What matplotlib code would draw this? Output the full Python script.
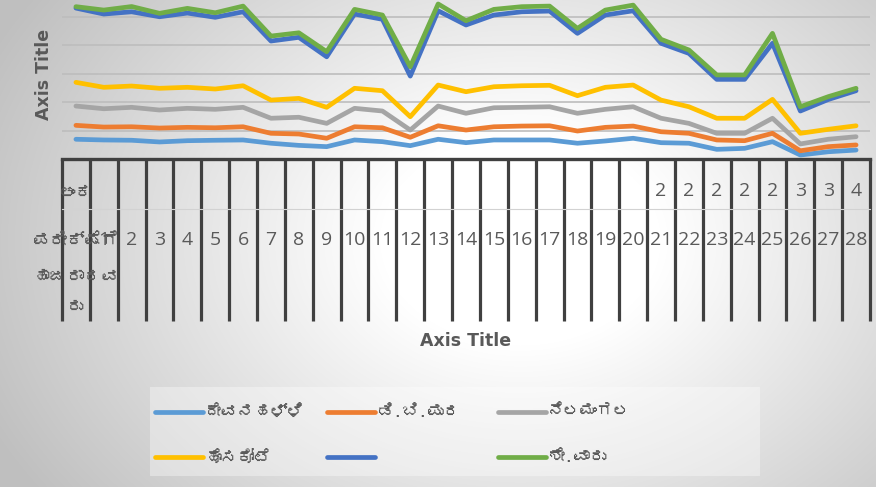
import numpy as np
import matplotlib
matplotlib.use('Agg')
import matplotlib.pyplot as plt
from matplotlib import font_manager
from matplotlib.ft2font import FT2Font
from matplotlib.lines import Line2D
from matplotlib.patches import Rectangle
import matplotlib.transforms as mtransforms

# ---------------- data ----------------
cat_first = ['ಅಂಕ', 'ಪರೀಕ್ಷೆಗೆ', 'ಹಾಜರಾದವ', 'ರು']
cat_top = [''] + [''] * 20 + ['2', '2', '2', '2', '2', '3', '3', '4']
cat_bottom = [''] + [str(i) for i in range(1, 29)]

series_names = ['ದೇವನಹಳ್ಳಿ', 'ಡಿ.ಬಿ.ಪುರ', 'ನೆಲಮಂಗಲ', 'ಹೊಸಕೋಟೆ', '', 'ಶೇ.ವಾರು']

devanahalli = [13.9, 13.4, 13.2, 12.0, 12.9, 13.2, 13.4, 11.1, 9.6, 8.7, 13.4, 12.2, 9.4, 13.9,
               11.5, 13.4, 13.4, 13.4, 11.1, 12.7, 14.6, 11.5, 11.1, 6.8, 7.5, 12.2, 2.8, 5.1, 6.3]
dbpura = [23.7, 22.5, 22.7, 21.8, 22.3, 22.0, 22.7, 18.1, 17.6, 14.6, 22.7, 22.0, 15.3, 23.4,
          20.4, 22.7, 23.2, 23.4, 19.7, 22.3, 23.2, 19.2, 18.1, 13.4, 12.9, 18.1, 5.8, 8.7, 9.9]
nelamangala = [37.3, 35.4, 36.4, 34.5, 35.7, 35.0, 36.4, 28.7, 29.4, 25.1, 35.7, 33.8, 20.4, 37.3,
               32.2, 36.1, 36.4, 36.8, 32.2, 35.0, 36.8, 28.7, 25.1, 18.1, 18.1, 28.7, 10.6, 13.9, 15.7]
hosakote = [54.0, 50.5, 51.4, 49.8, 50.5, 49.3, 51.6, 41.5, 42.7, 36.4, 49.8, 48.1, 29.8, 52.1,
            47.4, 50.9, 51.6, 51.9, 44.6, 50.5, 52.1, 41.5, 36.8, 28.7, 28.7, 42.0, 18.1, 20.9, 23.4]
unnamed = [106.3, 102.1, 103.7, 100.2, 102.8, 99.8, 103.7, 83.1, 85.7, 72.0, 102.1, 98.4, 58.4, 104.4,
           94.4, 101.4, 103.7, 104.2, 88.5, 101.4, 104.4, 81.5, 74.4, 56.1, 56.1, 81.5, 33.8, 41.9, 48.1]
percent = [107.3, 104.9, 107.4, 102.6, 106.1, 103.0, 107.7, 86.6, 88.9, 75.6, 105.4, 101.4, 65.0, 109.2,
           97.4, 105.4, 107.3, 107.7, 92.0, 104.9, 108.4, 84.3, 76.8, 59.2, 59.2, 88.5, 36.8, 43.9, 49.8]

series_values = [devanahalli, dbpura, nelamangala, hosakote, unnamed, percent]
colors = ['#5B9BD5', '#ED7D31', '#A5A5A5', '#FFC000', '#4472C4', '#70AD47']

# ---------------- fonts ----------------
def find_kannada_font():
    seen = set()
    for f in font_manager.fontManager.ttflist:
        if f.fname in seen:
            continue
        seen.add(f.fname)
        try:
            cm = FT2Font(f.fname).get_charmap()
        except Exception:
            continue
        if 0x0C85 in cm and 0x0CB3 in cm:
            return f.name
    return None

kn = find_kannada_font()
fam = ([kn] if kn else []) + ['Open Sans', 'DejaVu Sans']
plt.rcParams['font.family'] = fam
num_fam = ['Open Sans', 'DejaVu Sans']

W, H = 876, 487
fig = plt.figure(figsize=(W / 100, H / 100), dpi=100)

# background radial gradient
yy, xx = np.mgrid[0:H, 0:W]
d = np.sqrt(((xx - 520) / 560.0) ** 2 + ((yy - 240) / 420.0) ** 2)
g = 1 - 0.25 * np.clip((d - 0.25) / 0.8, 0, 1)
bg = fig.add_axes([0, 0, 1, 1], zorder=-10)
bg.imshow(np.dstack([g, g, g]), extent=[0, 1, 0, 1], aspect='auto', origin='upper',
          interpolation='bilinear')
bg.axis('off')

# plot axes
ax_left, ax_right, ax_top_px, ax_bottom_px = 62, 870, 0, 159
ax = fig.add_axes([ax_left / W, (H - ax_bottom_px) / H, (ax_right - ax_left) / W,
                   (ax_bottom_px - ax_top_px) / H])
ax.patch.set_alpha(0)

x = np.arange(len(cat_bottom))
for vals, c in zip(series_values, colors):
    ax.plot(x, vals, color=c, lw=3.4, solid_capstyle='round', solid_joinstyle='round', zorder=3)

ax.set_xlim(-0.5, len(x) - 0.5)
ax.set_ylim(0, 112)
ax.set_yticks([20, 40, 60, 80, 100])
ax.yaxis.grid(True, color='#bdbdbd', lw=1.2)
ax.set_axisbelow(True)
ax.tick_params(axis='y', left=False, labelleft=False)
for s in ['left', 'top', 'right']:
    ax.spines[s].set_visible(False)
ax.spines['bottom'].set_color('#404040')
ax.spines['bottom'].set_linewidth(2.4)
ax.set_xticks(np.arange(-0.5, len(x), 1.0))
ax.tick_params(axis='x', length=116.5, width=2.3, color='#404040', labelbottom=False,
               direction='out')

trans = mtransforms.blended_transform_factory(ax.transData, ax.transAxes)
def ay(px):
    return (ax_bottom_px - px) / (ax_bottom_px - ax_top_px)

# faint multi-level divider
ax.plot([-0.5, len(x) - 0.5], [ay(209), ay(209)], transform=trans, color='#d2d2d2', lw=0.8,
        clip_on=False, zorder=1)

lab_color = '#595959'
fs = 14
for i, (t, b) in enumerate(zip(cat_top, cat_bottom)):
    if t:
        ax.text(i, ay(191), t, transform=trans, ha='center', va='center', fontsize=fs,
                color=lab_color, family=num_fam)
    if b:
        ax.text(i, ay(240), b, transform=trans, ha='center', va='center', fontsize=fs,
                color=lab_color, family=num_fam)
for line, py in zip(cat_first, [193, 240, 277, 307]):
    ax.text(0, ay(py), line, transform=trans, ha='center', va='center', fontsize=12.5,
            color=lab_color)

# axis titles
fig.text(44 / W, 1 - 74 / H, 'Axis Title', rotation=90, fontweight='bold', fontsize=12.5,
         color=lab_color, ha='center', va='center', family=['DejaVu Sans'])
fig.text(466 / W, 1 - 341 / H, 'Axis Title', fontweight='bold', fontsize=12.5,
         color=lab_color, ha='center', va='center', family=['DejaVu Sans'])

# legend (manual layout)
fig.add_artist(Rectangle((150 / W, 1 - 476 / H), 610 / W, 89 / H, transform=fig.transFigure,
                         facecolor='white', alpha=0.35, edgecolor='none', zorder=0))
col_x = [155, 327, 498]
row_y = [412, 457]
for k, (name, c) in enumerate(zip(series_names, colors)):
    r, cc = divmod(k, 3)
    x0 = col_x[cc]
    yv = 1 - row_y[r] / H
    fig.add_artist(Line2D([x0 / W, (x0 + 48) / W], [yv, yv], transform=fig.transFigure,
                          color=c, lw=3.4, solid_capstyle='round'))
    if name:
        fig.text((x0 + 50) / W, yv, name, ha='left', va='center', fontsize=12,
                 color=lab_color)

fig.savefig('out.png', dpi=100)
